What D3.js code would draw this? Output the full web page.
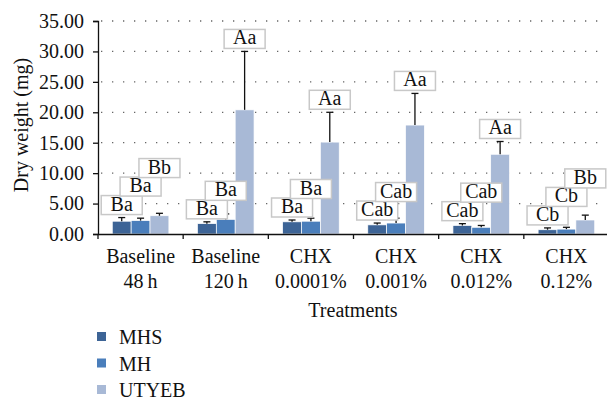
<!DOCTYPE html>
<html>
<head>
<meta charset="utf-8">
<script src="https://cdn.jsdelivr.net/npm/d3@7"></script>
<style>
  body { margin: 0; background: #fff; }
  svg, svg text { font-family: "Liberation Serif", "DejaVu Serif", serif; }
  svg text { fill: #111; }
</style>
</head>
<body>
<div id="chart"></div>
<script>
// treatments (two-line labels)
var categories = ["Baseline 48 h", "Baseline 120 h", "CHX 0.0001%", "CHX 0.001%", "CHX 0.012%", "CHX 0.12%"];
var catLine1 = ["Baseline", "Baseline", "CHX", "CHX", "CHX", "CHX"];
var catLine2 = ["48\u2009h", "120\u2009h", "0.0001%", "0.001%", "0.012%", "0.12%"];

var seriesNames = ["MHS", "MH", "UTYEB"];
var seriesColors = ["#3d6496", "#4a7ebb", "#a8b9d6"];

// mean dry weight (mg)
var mhsMean   = [2.1, 1.7, 2.0, 1.5, 1.4, 0.7];
var mhMean    = [2.2, 2.4, 2.1, 1.8, 1.1, 0.8];
var utyebMean = [3.0, 20.4, 15.1, 17.9, 13.1, 2.3];

// standard deviation (error bar, upward)
var mhsSd   = [0.6, 0.3, 0.3, 0.3, 0.3, 0.3];
var mhSd    = [0.4, 0.9, 0.5, 0.8, 0.3, 0.3];
var utyebSd = [0.4, 9.6, 4.9, 5.2, 2.1, 0.8];

// letters of the statistical test
var mhsLetters   = ["Ba", "Ba", "Ba", "Cab", "Cab", "Cb"];
var mhLetters    = ["Ba", "Ba", "Ba", "Cab", "Cab", "Cb"];
var utyebLetters = ["Bb", "Aa", "Aa", "Aa", "Aa", "Bb"];

var yTicks = [0, 5, 10, 15, 20, 25, 30, 35];

var means = [mhsMean, mhMean, utyebMean];
var sds = [mhsSd, mhSd, utyebSd];
var letters = [mhsLetters, mhLetters, utyebLetters];

var FONT = "Liberation Serif, DejaVu Serif, serif";
var W = 607, H = 401;
var svg = d3.select("#chart").append("svg")
    .attr("width", W).attr("height", H)
    .attr("font-family", FONT);

var x0 = d3.scaleBand().domain(categories).range([98, 609]).padding(0);
var x1 = d3.scaleBand().domain(seriesNames).range([0, x0.bandwidth()])
    .paddingInner(0).paddingOuter(0.757);
var y = d3.scaleLinear().domain([0, 35]).range([234, 21]);

// dotted gridlines
svg.append("g").selectAll("line")
    .data(yTicks.filter(function(d) { return d > 0; }))
    .enter().append("line")
    .attr("x1", 101).attr("x2", 609)
    .attr("y1", function(d) { return y(d); })
    .attr("y2", function(d) { return y(d); })
    .attr("stroke", "#666")
    .attr("stroke-width", 1.3)
    .attr("stroke-dasharray", "1.3 9.7");

// rows of data
var rows = [];
categories.forEach(function(c, i) {
  seriesNames.forEach(function(s, k) {
    rows.push({cat: c, ci: i, series: s, k: k, mean: means[k][i], sd: sds[k][i], letter: letters[k][i]});
  });
});

// bars
svg.append("g").selectAll("rect")
    .data(rows).enter().append("rect")
    .attr("x", function(d) { return x0(d.cat) + x1(d.series); })
    .attr("width", x1.bandwidth())
    .attr("y", function(d) { return y(d.mean); })
    .attr("height", function(d) { return y(0) - y(d.mean); })
    .attr("fill", function(d) { return seriesColors[d.k]; })
    .attr("stroke", "#fff")
    .attr("stroke-width", 0.7);

// error bars
var eb = svg.append("g").selectAll("g").data(rows).enter().append("g");
eb.append("line")
    .attr("x1", function(d) { return x0(d.cat) + x1(d.series) + x1.bandwidth() / 2; })
    .attr("x2", function(d) { return x0(d.cat) + x1(d.series) + x1.bandwidth() / 2; })
    .attr("y1", function(d) { return y(d.mean); })
    .attr("y2", function(d) { return y(d.mean + d.sd); })
    .attr("stroke", "#111").attr("stroke-width", 1.3);
eb.append("line")
    .attr("x1", function(d) { return x0(d.cat) + x1(d.series) + x1.bandwidth() / 2 - 3.5; })
    .attr("x2", function(d) { return x0(d.cat) + x1(d.series) + x1.bandwidth() / 2 + 3.5; })
    .attr("y1", function(d) { return y(d.mean + d.sd); })
    .attr("y2", function(d) { return y(d.mean + d.sd); })
    .attr("stroke", "#111").attr("stroke-width", 1.3);

// letter boxes, stacked so they do not overlap inside a group
var boxW = 41, boxH = 19;
var boxes = [];
categories.forEach(function(c, i) {
  var prevTop = Infinity;
  seriesNames.forEach(function(s, k) {
    var top = y(means[k][i] + sds[k][i]);
    var bottom = Math.min(top - 3, prevTop + 0.5);
    boxes.push({cx: x0(c) + x1(s) + x1.bandwidth() / 2, bottom: bottom, text: letters[k][i]});
    prevTop = bottom - boxH;
  });
});
var lb = svg.append("g").selectAll("g").data(boxes).enter().append("g");
lb.append("rect")
    .attr("x", function(d) { return d.cx - boxW / 2; })
    .attr("y", function(d) { return d.bottom - boxH; })
    .attr("width", boxW).attr("height", boxH)
    .attr("fill", "#fff")
    .attr("stroke", "#c8c8c8").attr("stroke-width", 1.5);
lb.append("text")
    .attr("x", function(d) { return d.cx; })
    .attr("y", function(d) { return d.bottom - 4; })
    .attr("text-anchor", "middle")
    .style("font-size", "20px").style("font-family", FONT)
    .text(function(d) { return d.text; });

// y axis
var yAxis = svg.append("g")
    .attr("transform", "translate(98,0)")
    .call(d3.axisLeft(y).tickValues(yTicks).tickSize(5).tickPadding(9)
      .tickFormat(function(d) { return d3.format(".2f")(d); }));
yAxis.attr("font-family", FONT);
yAxis.select(".domain").attr("stroke", "#111").attr("stroke-width", 1.3);
yAxis.selectAll(".tick line").attr("stroke", "#111").attr("stroke-width", 1.3);
yAxis.selectAll("text").style("font-size", "20px").style("font-family", FONT).attr("fill", "#111");

// x axis
var xAxis = svg.append("g")
    .attr("transform", "translate(0,234)")
    .call(d3.axisBottom(x0).tickSize(0).tickFormat(""));
xAxis.select(".domain").attr("stroke", "#111").attr("stroke-width", 1.3);
xAxis.selectAll(".tick").remove();
xAxis.selectAll("line.sep")
    .data(categories).enter().append("line")
    .attr("x1", function(d) { return x0(d); })
    .attr("x2", function(d) { return x0(d); })
    .attr("y1", 0).attr("y2", 5)
    .attr("stroke", "#111").attr("stroke-width", 1.3);

// category labels
var cl = svg.append("g").selectAll("g").data(categories).enter().append("g");
cl.append("text")
    .attr("x", function(d) { return x0(d) + x0.bandwidth() / 2; })
    .attr("y", 263)
    .attr("text-anchor", "middle").style("font-size", "20px").style("font-family", FONT)
    .text(function(d, i) { return catLine1[i]; });
cl.append("text")
    .attr("x", function(d) { return x0(d) + x0.bandwidth() / 2; })
    .attr("y", 288)
    .attr("text-anchor", "middle").style("font-size", "20px").style("font-family", FONT)
    .text(function(d, i) { return catLine2[i]; });

// axis titles
svg.append("text")
    .attr("x", 353).attr("y", 317)
    .attr("text-anchor", "middle").style("font-size", "20px").style("font-family", FONT)
    .text("Treatments");
svg.append("text")
    .attr("transform", "translate(28,125) rotate(-90)")
    .attr("text-anchor", "middle").style("font-size", "20px").style("font-family", FONT)
    .text("Dry weight (mg)");

// legend
var lg = svg.append("g").selectAll("g").data(seriesNames).enter().append("g")
    .attr("transform", function(d, i) { return "translate(97," + (337 + i * 26.5) + ")"; });
lg.append("rect")
    .attr("x", 0).attr("y", -5)
    .attr("width", 9).attr("height", 9)
    .attr("fill", function(d, i) { return seriesColors[i]; });
lg.append("text")
    .attr("x", 22).attr("y", 7)
    .style("font-size", "20px").style("font-family", FONT)
    .text(function(d) { return d; });
</script>
</body>
</html>
